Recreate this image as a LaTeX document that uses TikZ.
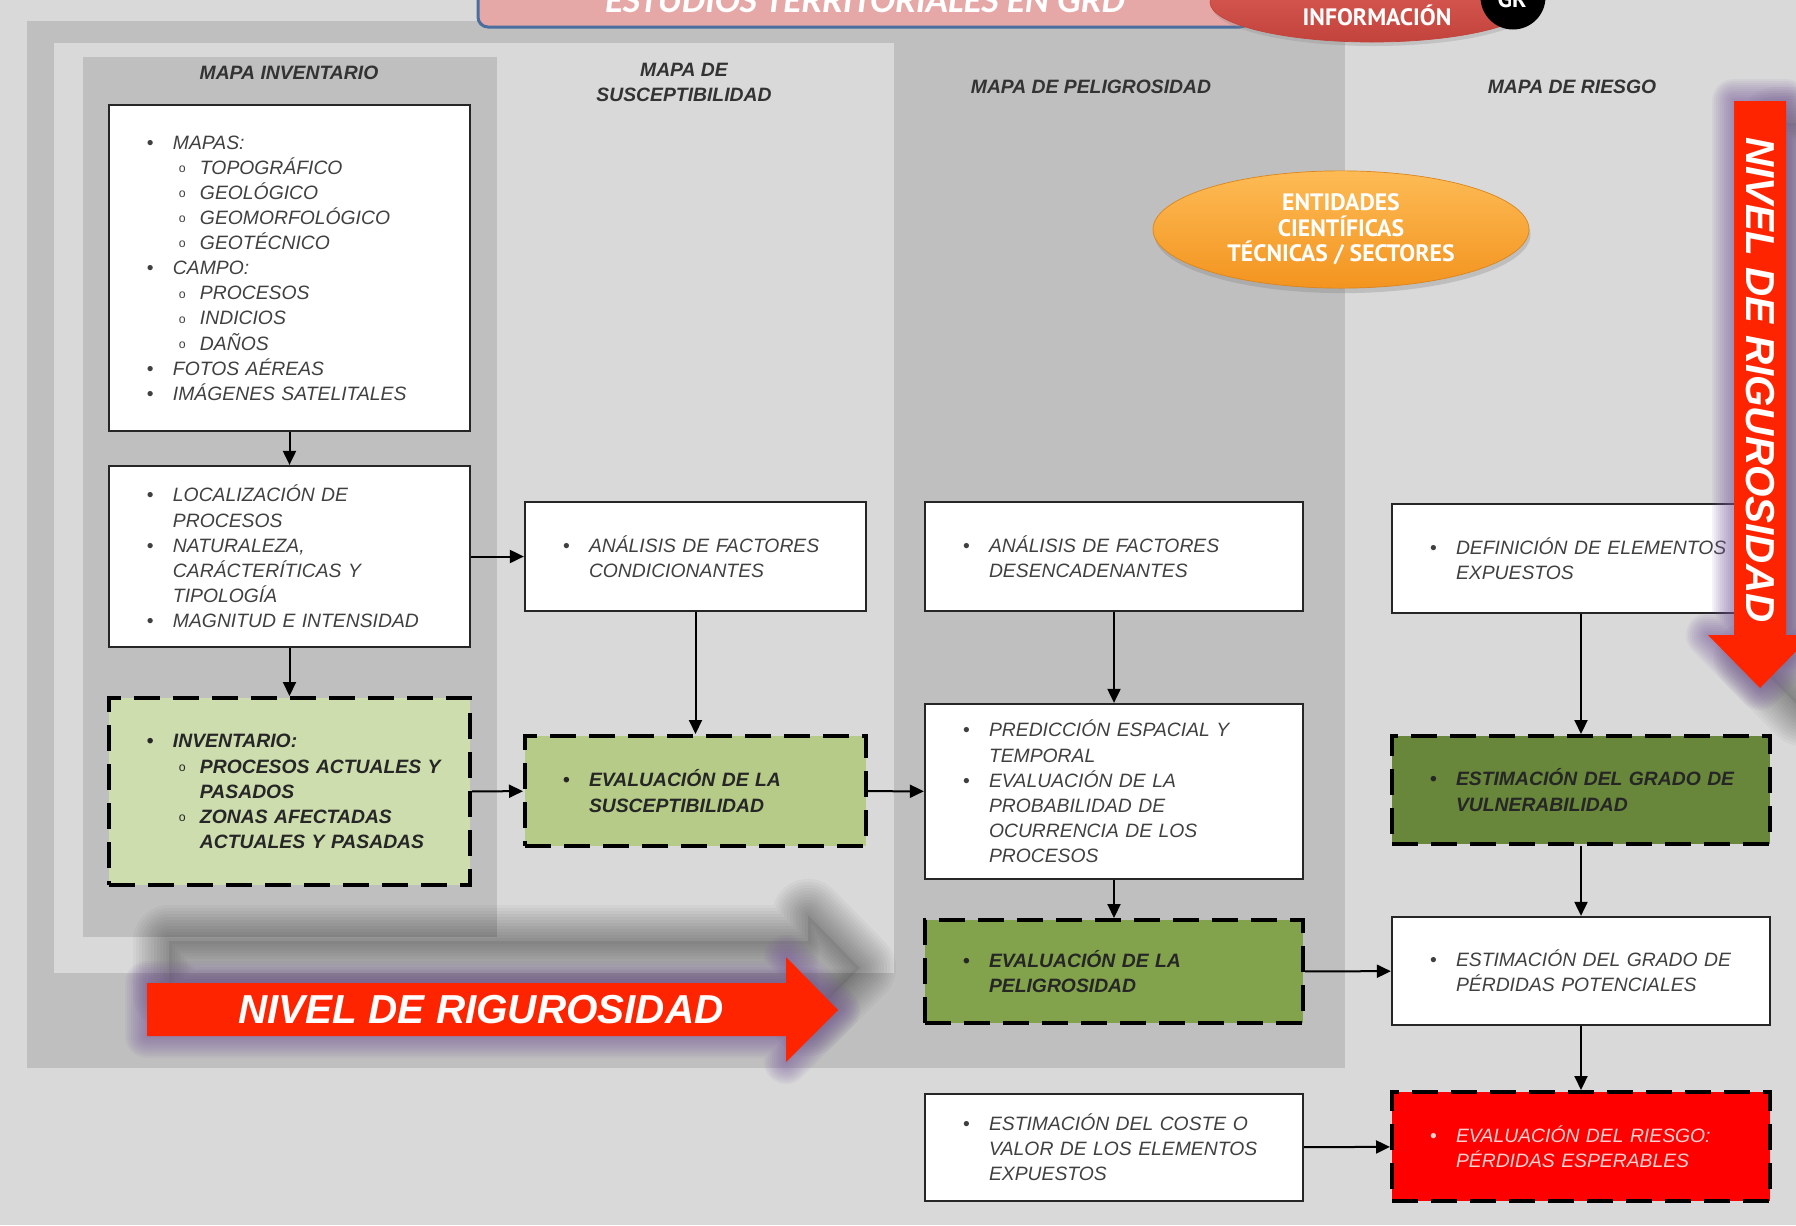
\documentclass[tikz,border=0pt]{standalone}
\usepackage{fontspec}
\setmainfont{Liberation Sans}
\newfontfamily\ptsans{PT Sans}
\newfontfamily\carlito{Carlito}
\usetikzlibrary{arrows.meta,shapes.geometric,shadows}

\definecolor{fondo}{HTML}{D9D9D9}
\definecolor{gris}{HTML}{BFBFBF}
\definecolor{verdeA}{HTML}{CEDDAE}
\definecolor{verdeB}{HTML}{B6CB88}
\definecolor{verdeC}{HTML}{82A34C}
\definecolor{verdeD}{HTML}{69873A}
\definecolor{rojo}{HTML}{FF2400}
\definecolor{brillo}{HTML}{7A5C9E}
\definecolor{texto}{HTML}{404040}
\definecolor{rosa}{HTML}{E5A8A7}
\definecolor{azul}{HTML}{4A6E9E}
\definecolor{rojoA}{HTML}{E0625A}
\definecolor{rojoB}{HTML}{C2433B}
\definecolor{naranjaA}{HTML}{FDBB55}
\definecolor{naranjaB}{HTML}{F3941F}
\definecolor{rosado}{HTML}{FFD2D2}

\newcommand{\itemA}[1]{\hspace*{7.6mm}\makebox[5.2mm][l]{\upshape\textbullet}#1}
\newcommand{\itemB}[1]{\hspace*{14mm}\makebox[4.2mm][l]{\raisebox{.15ex}{\fontsize{7}{7}\selectfont\upshape\mdseries o}}#1}
\newcommand{\contA}[1]{\hspace*{12.8mm}#1}
\newcommand{\contB}[1]{\hspace*{18.2mm}#1}

\newcommand{\flechaH}{(147,983) -- (786,983) -- (786,957) -- (838,1010) -- (786,1062) -- (786,1036) -- (147,1036) -- cycle}
\newcommand{\flechaV}{(1734,101) -- (1786,101) -- (1786,635) -- (1812,635) -- (1760,688) -- (1708,635) -- (1734,635) -- cycle}

\begin{document}
\begin{tikzpicture}[x=0.2mm, y=-0.2mm,
  caja/.style={draw=black!85, line width=0.45mm, fill=white, inner xsep=0pt, inner ysep=0pt,
    align=left, text=texto, font=\fontsize{11}{14.3}\selectfont\itshape},
  marca/.style={caja, draw=black, line width=0.8mm, dash pattern=on 5.2mm off 2.6mm,
    text=black!85, font=\fontsize{11}{14.3}\selectfont\bfseries\itshape},
  colA/.style={text width=72.2mm},
  colB/.style={text width=68.2mm},
  colC/.style={text width=75.6mm},
  titulo/.style={align=center, text=black!80, font=\fontsize{11}{14.2}\selectfont\bfseries\itshape},
  flecha/.style={line width=0.4mm, -{Triangle[length=2.8mm,width=2.6mm]}},
  rotulo/.style={text=white, font=\fontsize{23}{26}\selectfont\bfseries\itshape}]

\useasboundingbox (0,0) rectangle (1796,1225);
\clip (0,0) rectangle (1796,1225);
\fill[fondo] (0,0) rectangle (1796,1225);
\fill[gris] (27,21) rectangle (1345,1068);
\fill[fondo] (54,43) rectangle (894,973);
\fill[gris] (83,57) rectangle (497,937);

\draw[fill=rosa, draw=azul, line width=0.6mm, rounded corners=2mm] (478,-40) rectangle (1250,27);
\node[anchor=base, text=white, font=\carlito\bfseries\itshape\fontsize{21}{24}\selectfont] (estudios) at (865,12) {ESTUDIOS TERRITORIALES EN GRD};

\node[ellipse, minimum width=64.8mm, minimum height=16mm, top color=rojoA, bottom color=rojoB, draw=rojoB,
  drop shadow={opacity=0.25, shadow xshift=0.4mm, shadow yshift=-0.8mm}] (info) at (1372,2) {};
\node[text=white, font=\ptsans\bfseries\fontsize{13.5}{14.5}\selectfont] (informacion) at (1377,15) {INFORMACIÓN};
\node[circle, fill=black, minimum size=13mm] (gr) at (1513,-3) {};
\node[anchor=base, text=white, font=\ptsans\bfseries\fontsize{13.5}{14.5}\selectfont] (grtexto) at (1512,7) {GR};

\node[titulo] (invent) at (289,73) {MAPA INVENTARIO};
\node[titulo] (suscep) at (684,82) {MAPA DE\\SUSCEPTIBILIDAD};
\node[titulo] (pelig) at (1091,87) {MAPA DE PELIGROSIDAD};
\node[titulo] (riesgo) at (1572,87) {MAPA DE RIESGO};

\node[ellipse, minimum width=75.2mm, minimum height=21mm, top color=naranjaA, bottom color=naranjaB, draw=naranjaB!90!black,
  drop shadow={opacity=0.3, shadow xshift=0.3mm, shadow yshift=-1mm},
  align=center, text=white, font=\ptsans\bfseries\fontsize{13.5}{14.5}\selectfont] (entidades) at (1341,229.5)
  {ENTIDADES\\CIENTÍFICAS\\TÉCNICAS / SECTORES};

\begin{scope}[shift={(22,-42)}]
\foreach \w in {6,12,...,72}
  \draw[black, opacity=0.03, line width=\w*0.2mm, line join=round] \flechaH;
\fill[black, opacity=0.08] \flechaH;
\end{scope}
\begin{scope}[shift={(42,22)}]
\foreach \w in {6,12,...,72}
  \draw[black, opacity=0.03, line width=\w*0.2mm, line join=round] \flechaV;
\fill[black, opacity=0.08] \flechaV;
\end{scope}

\node[caja, colA, minimum height=65.2mm] (mapas) at (289.5,268)
  {\itemA{MAPAS:}\\ \itemB{TOPOGRÁFICO}\\ \itemB{GEOLÓGICO}\\ \itemB{GEOMORFOLÓGICO}\\ \itemB{GEOTÉCNICO}\\
   \itemA{CAMPO:}\\ \itemB{PROCESOS}\\ \itemB{INDICIOS}\\ \itemB{DAÑOS}\\
   \itemA{FOTOS AÉREAS}\\ \itemA{IMÁGENES SATELITALES}};
\node[caja, colA, minimum height=36.2mm] (local) at (289.5,556.5)
  {\itemA{LOCALIZACIÓN DE}\\ \contA{PROCESOS}\\ \itemA{NATURALEZA,}\\ \contA{CARÁCTERÍTICAS Y}\\ \contA{TIPOLOGÍA}\\
   \itemA{MAGNITUD E INTENSIDAD}};
\node[marca, colA, fill=verdeA, minimum height=37.4mm] (inventario) at (289.5,791.5)
  {\itemA{INVENTARIO:}\\ \itemB{PROCESOS ACTUALES Y}\\ \contB{PASADOS}\\ \itemB{ZONAS AFECTADAS}\\ \contB{ACTUALES Y PASADAS}};

\node[caja, colB, minimum height=21.8mm] (condic) at (695.5,556.5)
  {\itemA{ANÁLISIS DE FACTORES}\\ \contA{CONDICIONANTES}};
\node[marca, colB, fill=verdeB, minimum height=22mm] (evalsus) at (695.5,791)
  {\itemA{EVALUACIÓN DE LA}\\ \contA{SUSCEPTIBILIDAD}};

\node[caja, colC, minimum height=21.8mm] (desenc) at (1114,556.5)
  {\itemA{ANÁLISIS DE FACTORES}\\ \contA{DESENCADENANTES}};
\node[caja, colC, minimum height=35mm] (predic) at (1114,791.5)
  {\itemA{PREDICCIÓN ESPACIAL Y}\\ \contA{TEMPORAL}\\ \itemA{EVALUACIÓN DE LA}\\ \contA{PROBABILIDAD DE}\\
   \contA{OCURRENCIA DE LOS}\\ \contA{PROCESOS}};
\node[marca, colC, fill=verdeC, minimum height=20.6mm] (evalpel) at (1114,971.5)
  {\itemA{EVALUACIÓN DE LA}\\ \contA{PELIGROSIDAD}};
\node[caja, colC, minimum height=21.4mm] (coste) at (1114,1147.5)
  {\itemA{ESTIMACIÓN DEL COSTE O}\\ \contA{VALOR DE LOS ELEMENTOS}\\ \contA{EXPUESTOS}};

\node[caja, colC, minimum height=21.8mm] (expuestos) at (1581,558.5)
  {\itemA{DEFINICIÓN DE ELEMENTOS}\\ \contA{EXPUESTOS}};
\node[marca, colC, fill=verdeD, minimum height=21.6mm] (vulner) at (1581,790)
  {\itemA{ESTIMACIÓN DEL GRADO DE}\\ \contA{VULNERABILIDAD}};
\node[caja, colC, minimum height=21.6mm] (perdidas) at (1581,971)
  {\itemA{ESTIMACIÓN DEL GRADO DE}\\ \contA{PÉRDIDAS POTENCIALES}};
\node[marca, colC, fill=red, text=rosado, font=\fontsize{11}{14.3}\selectfont\itshape, minimum height=21.8mm] (evalries) at (1581,1146.5)
  {\itemA{EVALUACIÓN DEL RIESGO:}\\ \contA{PÉRDIDAS ESPERABLES}};

\draw[flecha] (mapas) -- (local);
\draw[flecha] (local) -- (inventario);
\draw[flecha] (local) -- (condic);
\draw[flecha] (inventario) -- (evalsus);
\draw[flecha] (condic) -- (evalsus);
\draw[flecha] (evalsus) -- (predic);
\draw[flecha] (desenc) -- (predic);
\draw[flecha] (predic) -- (evalpel);
\draw[flecha] (evalpel) -- (perdidas);
\draw[flecha] (expuestos) -- (vulner);
\draw[flecha] (vulner) -- (perdidas);
\draw[flecha] (perdidas) -- (evalries);
\draw[flecha] (coste) -- (evalries);

\foreach \w in {4,8,...,44}
  \draw[brillo, opacity=0.07, line width=\w*0.2mm, line join=round] \flechaH;
\fill[rojo] \flechaH;
\node[rotulo] (nivelH) at (481,1010) {NIVEL DE RIGUROSIDAD};

\foreach \w in {4,8,...,44}
  \draw[brillo, opacity=0.07, line width=\w*0.2mm, line join=round] \flechaV;
\fill[rojo] \flechaV;
\node[rotulo, rotate=-90] (nivelV) at (1760,380) {NIVEL DE RIGUROSIDAD};
\end{tikzpicture}
\end{document}
